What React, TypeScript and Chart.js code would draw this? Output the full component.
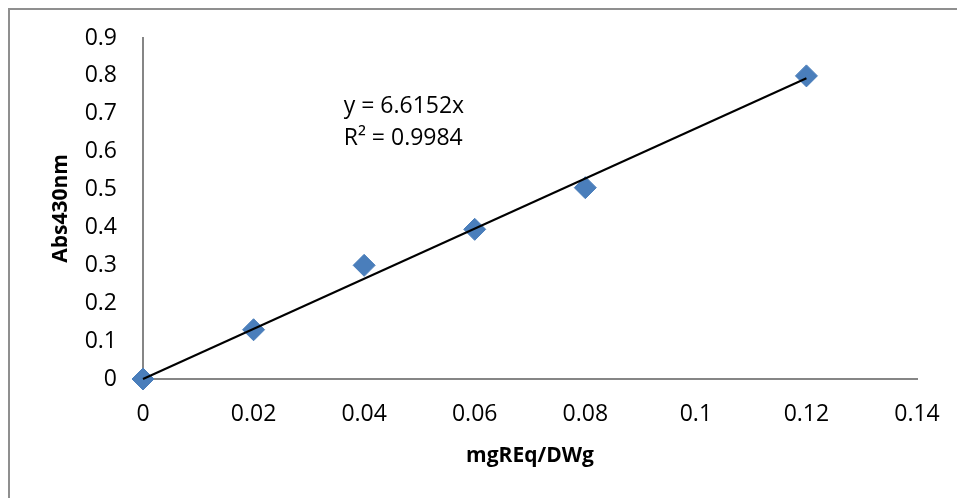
import React, { useEffect, useRef } from "react";
import { Chart, registerables } from "chart.js";

Chart.register(...registerables);

const xValues = [0, 0.02, 0.04, 0.06, 0.08, 0.12];
const yValues = [0, 0.13, 0.3, 0.395, 0.505, 0.8];
const trendSlope = 6.6152;
const trendRange = [0, 0.12];
const equationText = ["y = 6.6152x", "R² = 0.9984"];
const equationAnchor = { x: 0.0363, y: [0.72, 0.636] };
const xTitle = "mgREq/DWg";
const yTitle = "Abs430nm";

const FONT = "'Open Sans', 'Liberation Sans', sans-serif";

const decorPlugin = {
  id: "decor",
  beforeDraw(chart: any) {
    const ctx = chart.ctx;
    ctx.save();
    ctx.fillStyle = "#ffffff";
    ctx.fillRect(0, 0, chart.width, chart.height);
    ctx.strokeStyle = "#8f8f8f";
    ctx.lineWidth = 2;
    ctx.beginPath();
    ctx.moveTo(9, chart.height + 5);
    ctx.lineTo(9, 9);
    ctx.lineTo(chart.width + 5, 9);
    ctx.stroke();
    ctx.restore();
  },
  afterDraw(chart: any) {
    const ctx = chart.ctx;
    const xs = chart.scales.x;
    const ys = chart.scales.y;
    ctx.save();
    ctx.fillStyle = "#000";
    ctx.font = `23px ${FONT}`;
    ctx.textAlign = "left";
    ctx.textBaseline = "middle";
    equationText.forEach((t, i) => {
      ctx.fillText(t, xs.getPixelForValue(equationAnchor.x), ys.getPixelForValue(equationAnchor.y[i]));
    });
    ctx.restore();
  },
};

export default function App() {
  const ref = useRef<HTMLCanvasElement | null>(null);
  useEffect(() => {
    if (!ref.current) return;
    const chart = new Chart(ref.current, {
      type: "scatter",
      data: {
        datasets: [
          {
            label: "data",
            data: xValues.map((x, i) => ({ x, y: yValues[i] })),
            pointStyle: "rectRot",
            pointRadius: 11,
            backgroundColor: "#4a7ebb",
            borderColor: "#4a7ebb",
            borderWidth: 1,
            clip: false,
            order: 2,
          },
          {
            label: "trend",
            data: trendRange.map((x) => ({ x, y: trendSlope * x })),
            showLine: true,
            pointRadius: 0,
            borderColor: "#000000",
            borderWidth: 2,
            clip: false,
            order: 1,
          },
        ],
      },
      plugins: [decorPlugin],
      options: {
        animation: false,
        responsive: false,
        devicePixelRatio: 1,
        layout: { padding: { left: 0, top: 38, right: 40, bottom: 0 } },
        plugins: { legend: { display: false }, tooltip: { enabled: false } },
        scales: {
          x: {
            type: "linear",
            min: 0,
            max: 0.14,
            ticks: {
              stepSize: 0.02,
              color: "#000",
              font: { family: FONT, size: 23 },
              padding: 22,
              callback: (v: any) => String(Math.round(Number(v) * 100) / 100),
            },
            grid: { display: false, drawTicks: false },
            border: { color: "#868686", width: 2 },
            title: {
              display: true,
              text: xTitle,
              color: "#000",
              font: { family: FONT, size: 21, weight: "bold" },
              padding: { top: 0, bottom: 29 },
            },
            afterFit: (s: any) => {
              s.height = 119;
              s.paddingRight = 0;
              s.paddingLeft = 0;
            },
          },
          y: {
            type: "linear",
            min: 0,
            max: 0.9,
            ticks: {
              stepSize: 0.1,
              color: "#000",
              font: { family: FONT, size: 23 },
              padding: 26,
              callback: (v: any) => String(Math.round(Number(v) * 10) / 10),
            },
            grid: { display: false, drawTicks: false },
            border: { color: "#868686", width: 2 },
            title: {
              display: true,
              text: yTitle,
              color: "#000",
              font: { family: FONT, size: 21, weight: "bold" },
              padding: { top: 48, bottom: 0 },
            },
            afterFit: (s: any) => {
              s.width = 143;
              s.paddingTop = 0;
              s.paddingBottom = 0;
            },
          },
        },
      },
    });
    return () => chart.destroy();
  }, []);
  return (
    <div style={{ position: "absolute", left: 0, top: 0, width: 957, height: 498 }}>
      <canvas ref={ref} width={957} height={498} />
    </div>
  );
}
